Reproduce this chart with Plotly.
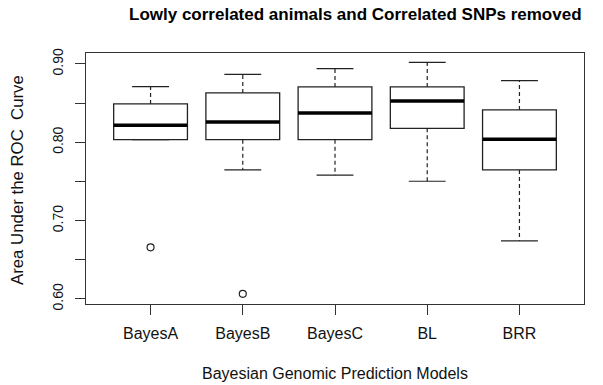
import plotly.graph_objects as go

models = ["BayesA", "BayesB", "BayesC", "BL", "BRR"]
lower_whisker = [0.8034, 0.7648, 0.758, 0.7503, 0.6742]
q1 = [0.8034, 0.8034, 0.8034, 0.8179, 0.7648]
median = [0.8217, 0.826, 0.8375, 0.8528, 0.8038]
q3 = [0.849, 0.863, 0.8707, 0.8707, 0.8413]
upper_whisker = [0.871, 0.8867, 0.894, 0.902, 0.8787]
outlier_model = [1, 2]
outlier_value = [0.666, 0.6066]

yticks = [0.60, 0.65, 0.70, 0.75, 0.80, 0.85, 0.90]
ytick_text = ["0.60", "", "0.70", "", "0.80", "", "0.90"]

pos = list(range(1, len(models) + 1))
BW = 0.8
CAP = 0.2
LC = "#222222"
FONT = "Liberation Sans, Arial, sans-serif"

fig = go.Figure()

for i, p in enumerate(pos):
    fig.add_trace(go.Scatter(x=[p, p, None, p, p],
                             y=[q3[i], upper_whisker[i], None, q1[i], lower_whisker[i]],
                             mode="lines", line=dict(color=LC, width=1.2, dash="4px,3px"),
                             showlegend=False, hoverinfo="skip"))
    fig.add_trace(go.Scatter(x=[p - CAP, p + CAP, None, p - CAP, p + CAP],
                             y=[upper_whisker[i], upper_whisker[i], None, lower_whisker[i], lower_whisker[i]],
                             mode="lines", line=dict(color=LC, width=1.2),
                             showlegend=False, hoverinfo="skip"))

fig.add_trace(go.Box(x=pos, q1=q1, median=median, q3=q3, lowerfence=q1, upperfence=q3,
                     width=BW, fillcolor="white", line=dict(color=LC, width=1.3),
                     whiskerwidth=0, showlegend=False, boxpoints=False))

for i, p in enumerate(pos):
    fig.add_trace(go.Scatter(x=[p - BW / 2, p + BW / 2], y=[median[i], median[i]],
                             mode="lines", line=dict(color="black", width=3.5),
                             showlegend=False, hoverinfo="skip"))

fig.add_trace(go.Scatter(x=outlier_model, y=outlier_value, mode="markers",
                         marker=dict(symbol="circle-open", size=7, color=LC, line=dict(width=1.2)),
                         showlegend=False, hoverinfo="skip"))

fig.update_layout(
    width=603, height=385,
    margin=dict(l=86, r=19, t=53, b=81),
    paper_bgcolor="white", plot_bgcolor="white",
    font=dict(family=FONT, color="#111111", size=16),
    xaxis=dict(range=[0.3, 5.7], tickvals=pos, ticktext=models, showgrid=False, zeroline=False,
               showline=True, mirror=True, linecolor="#333333", linewidth=1.2,
               ticks="outside", ticklen=10, tickcolor="#333333", tickwidth=1.2,
               tickfont=dict(size=16), ticklabelstandoff=5),
    yaxis=dict(range=[0.5936, 0.914], tickvals=yticks, ticktext=ytick_text, showgrid=False,
               zeroline=False, showline=True, mirror=True, linecolor="#333333", linewidth=1.2,
               ticks="outside", ticklen=10, tickcolor="#333333", tickwidth=1.2,
               tickangle=-90, tickfont=dict(size=14), ticklabelstandoff=6),
    annotations=[
        dict(text="<b>Lowly correlated animals and Correlated SNPs removed</b>",
             x=(355 - 86) / 498, y=1 + (53 - 15) / 251, xref="paper", yref="paper",
             yanchor="middle", showarrow=False, font=dict(size=17, color="black")),
        dict(text="Bayesian Genomic Prediction Models", x=0.5, y=-(373 - 304) / 251,
             xref="paper", yref="paper", yanchor="middle", showarrow=False, font=dict(size=16)),
        dict(text="Area Under the ROC  Curve", x=-(86 - 17) / 498, y=(304 - 180) / 251,
             xref="paper", yref="paper", xanchor="center", yanchor="middle",
             showarrow=False, textangle=-90, font=dict(size=16.8)),
    ],
)

fig.write_html("out.html")
